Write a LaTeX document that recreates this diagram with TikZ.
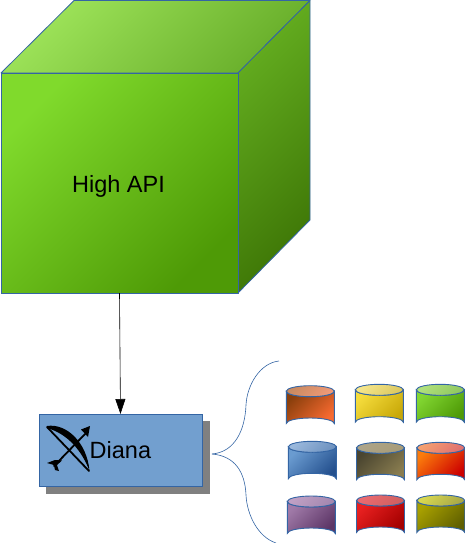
\documentclass[tikz,border=0pt]{standalone}
\usepackage{fontspec}
\setmainfont{Liberation Sans}
\usetikzlibrary{arrows.meta}
\definecolor{edgeblue}{HTML}{3465A4}
\tikzset{
  diagshade/.style 2 args={left color=#1,right color=#2,shading angle=45},
  cubeface/.style={draw=edgeblue,line width=0.8pt,line join=round},
  drum/.style={draw=edgeblue,line width=0.9pt},
}
\newcommand{\hexdef}[2]{\definecolor{#1}{HTML}{#2}}
\newcommand{\drumshape}[8]{%
  \hexdef{bodya}{#5}\hexdef{bodyb}{#6}\hexdef{lida}{#7}\hexdef{lidb}{#8}%
  \pgfmathsetmacro{\xl}{#1}\pgfmathsetmacro{\xr}{#1+48}\pgfmathsetmacro{\xm}{#1+24}%
  \pgfmathsetmacro{\ymid}{#2+5.5}\pgfmathsetmacro{\ybot}{#3-5.5}%
  \path[drum,diagshade={bodya}{bodyb}]
    (\xl,\ymid) -- (\xl,\ybot) arc[start angle=180,end angle=360,x radius=24,y radius=5.5]
    -- (\xr,\ymid) arc[start angle=0,end angle=180,x radius=24,y radius=5.5] -- cycle;
  \path[drum,diagshade={lida}{lidb}] (\xm,\ymid) ellipse[x radius=24,y radius=5.5];
  \node[inner sep=0pt,minimum size=0pt] (#4) at (\xm,\ymid) {};
}
\definecolor{topa}{HTML}{9EE45A}
\definecolor{topb}{HTML}{68AE2A}
\definecolor{sidea}{HTML}{64AE20}
\definecolor{sideb}{HTML}{3E7606}
\definecolor{fronta}{HTML}{80DA2C}
\definecolor{frontb}{HTML}{4E9A06}
\begin{document}
\begin{tikzpicture}[x=1pt,y=-1pt,font=\fontsize{23.5}{28}\selectfont]
\useasboundingbox (0,0) rectangle (465,543);
% cube
\path[cubeface,diagshade={topa}{topb}]
  (1,73) -- (74,0.5) -- (310,0.5) -- (238,73) -- cycle;
\path[cubeface,diagshade={sidea}{sideb}]
  (238,73) -- (310,0.5) -- (310,220) -- (238,293) -- cycle;
\node[cubeface,diagshade={fronta}{frontb},outer sep=0pt,
  minimum width=237pt,minimum height=220pt,inner sep=0pt,anchor=north west] (front) at (1,73) {};
\node[anchor=base,text=black] (high) at (118.5,192) {High API};
% Diana
\fill[fill={rgb,255:red,128;green,128;blue,128}] (46,421) rectangle (210,494);
\node[draw=edgeblue,line width=0.9pt,fill={rgb,255:red,114;green,159;blue,207},outer sep=0pt,
  minimum width=163pt,minimum height=72pt,inner sep=0pt,anchor=north west] (diana) at (39,414) {};
\node[anchor=base west,inner sep=0pt,text=black] (dianatext) at (89.5,458) {Diana};
% connector
\draw[black,line width=0.6pt,-{Triangle[length=15pt,width=10pt]}] (front.south) -- (diana.north);
% bow and arrow
\begin{scope}[black,line cap=round,line join=round]
  \draw[line width=1.8pt] (47,427) -- (89,471);
  \fill (47,426) .. controls (66,423) and (87,442) .. (89.5,471)
     .. controls (82,451) and (68,434) .. (47,428) -- cycle;
  \draw[line width=1.8pt] (54,466) -- (87,432);
  \fill (90,426) -- (88,437) -- (84.5,433) -- (81,429.5) -- cycle;
  \fill (47,463) -- (55,460) -- (62,460.5) -- (57,465) -- (59,471) -- (55,470) -- (54,465) -- cycle;
\end{scope}
% braces
\coordinate (bracetip) at (212,454);
\coordinate (bracetop) at (279,361);
\coordinate (bracebot) at (276,543);
\draw[edgeblue,line width=0.6pt] (bracetip) .. controls (235,452) and (245,430) .. (246,405)
   .. controls (247,385) and (260,363) .. (bracetop);
\draw[edgeblue,line width=0.6pt] (bracetip) .. controls (235,456) and (245,472) .. (246,495)
   .. controls (247,515) and (258,537) .. (bracebot);
% drums
\drumshape{286.3}{385.7}{429}{d1}{8A3F0C}{F86A30}{C98A60}{F09A78}
\drumshape{355.3}{384.3}{427.7}{d2}{F5DC3C}{C8A808}{F5E68C}{DCC860}
\drumshape{416.3}{384.3}{427.7}{d3}{82D632}{4E9A06}{B0E07C}{90C860}
\drumshape{288.3}{441.3}{484.3}{d4}{6A9BD0}{24508E}{9AB8DC}{6F93C0}
\drumshape{356.5}{442.3}{485.3}{d5}{4A4530}{8A7D50}{ADA488}{A89C78}
\drumshape{416.8}{442.3}{485.3}{d6}{FB7B0C}{CC0000}{F5A070}{E07070}
\drumshape{287.3}{496}{539}{d7}{A07AA8}{5C3566}{C0A0C4}{A488B0}
\drumshape{356.5}{495}{538}{d8}{E82020}{A40000}{EA6A70}{D06060}
\drumshape{416.8}{495}{538}{d9}{A8A000}{5F5F00}{D8D850}{A8A848}
\end{tikzpicture}
\end{document}
